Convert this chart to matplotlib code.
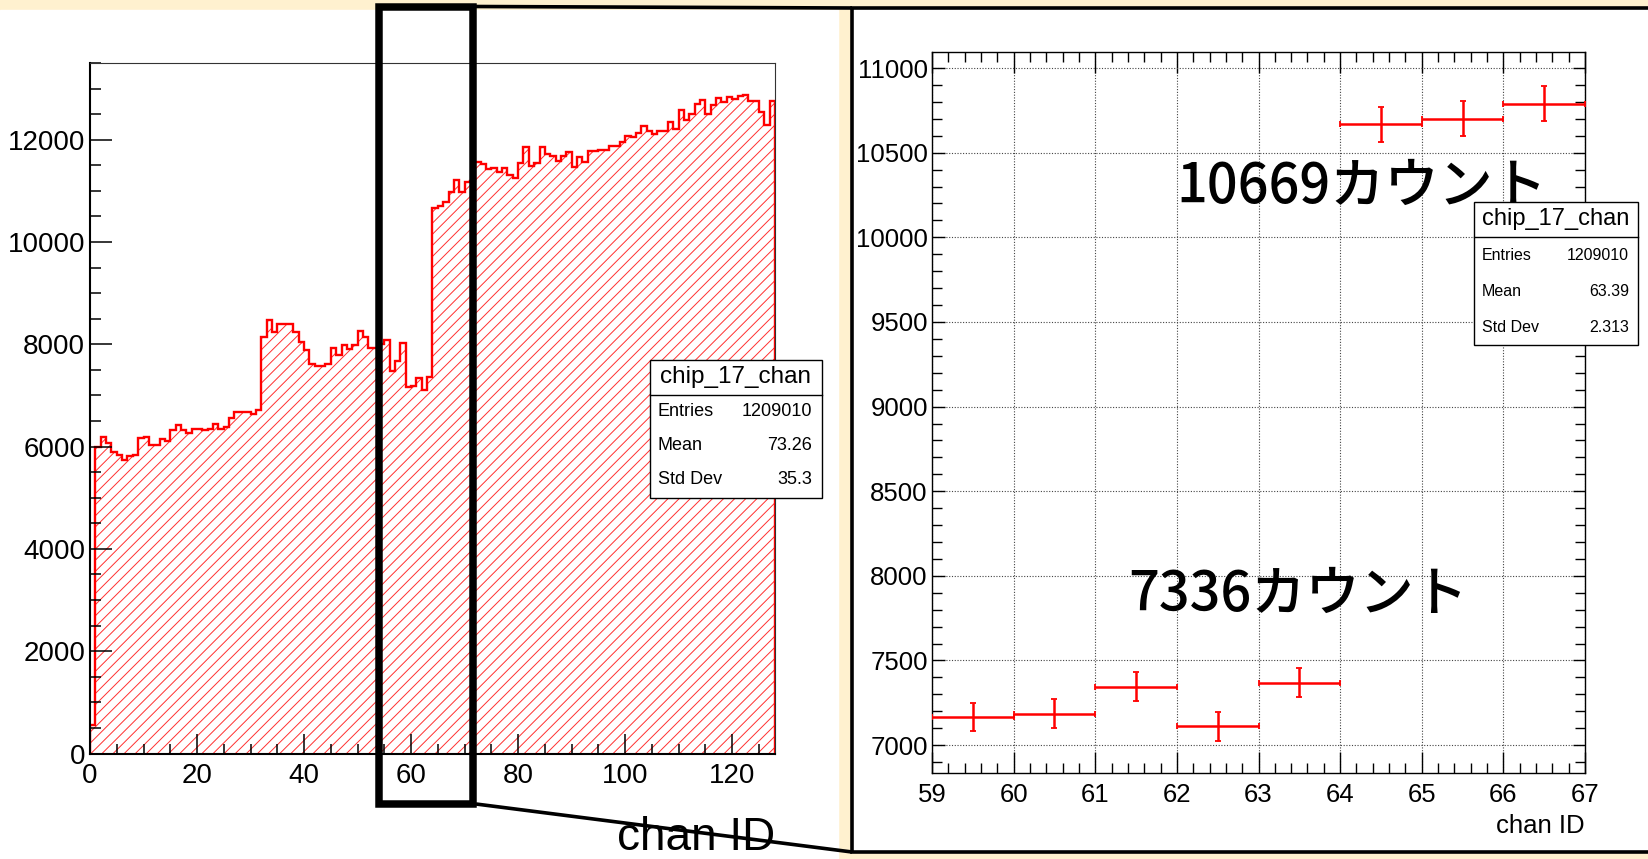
import numpy as np
import matplotlib.pyplot as plt
from matplotlib.patches import Rectangle
from matplotlib.ticker import MultipleLocator

plt.rcParams['font.family'] = ['Liberation Sans', 'Noto Sans CJK JP', 'DejaVu Sans']
plt.rcParams['hatch.linewidth'] = 0.7

# counts per channel of chip 17 (128 channels)
counts = [550, 6000, 6185, 6080, 5890, 5840, 5740, 5820, 5840, 6165,
          6185, 6035, 6035, 6145, 6100, 6315, 6425, 6315, 6260, 6345,
          6345, 6315, 6345, 6445, 6345, 6380, 6555, 6675, 6675, 6675,
          6640, 6720, 8150, 8480, 8250, 8400, 8400, 8400, 8250, 8050,
          7890, 7610, 7580, 7580, 7610, 7925, 7795, 7990, 7910, 7990,
          8265, 8140, 7925, 7925, 8000, 8080, 7485, 7665, 8035, 7165,
          7185, 7345, 7110, 7368, 10669, 10700, 10790, 10970, 11220, 10970,
          11180, 11200, 11560, 11520, 11420, 11440, 11360, 11450, 11310, 11250,
          11540, 11850, 11480, 11540, 11850, 11720, 11675, 11590, 11675, 11760,
          11460, 11655, 11565, 11770, 11770, 11805, 11805, 11870, 11870, 11955,
          12065, 12050, 12130, 12260, 12165, 12115, 12180, 12180, 12340, 12210,
          12585, 12390, 12510, 12705, 12780, 12510, 12685, 12815, 12730, 12845,
          12795, 12860, 12880, 12750, 12750, 12540, 12295, 12750]
edges = np.arange(len(counts) + 1)

zoom_lo, zoom_hi = 59, 67
hist_name = 'chip_17_chan'
stats_full = [('Entries', '1209010'), ('Mean', '73.26'), ('Std Dev', '35.3')]
stats_zoom = [('Entries', '1209010'), ('Mean', '63.39'), ('Std Dev', '2.313')]
notes = ['10669カウント', '7336カウント']

W, H = 1649, 859
CREAM = '#fff1cf'
fig = plt.figure(figsize=(W / 100, H / 100), dpi=100)


def px_axes(x0, y0, x1, y1, **kw):
    # axes from pixel box, y measured from the top
    return fig.add_axes([x0 / W, 1 - y1 / H, (x1 - x0) / W, (y1 - y0) / H], **kw)


# slide background
bg = px_axes(0, 0, W, H, zorder=0)
bg.set_xlim(0, W)
bg.set_ylim(H, 0)
bg.axis('off')
bg.add_patch(Rectangle((0, 0), W, H, color=CREAM))
bg.add_patch(Rectangle((0, 9.5), 838, H, color='white'))
bg.add_patch(Rectangle((852, 8), W, 844, facecolor='white', edgecolor='black', lw=2.6))

# left: full histogram
ax1 = px_axes(90, 63, 775, 753.5, zorder=1)
ax1.fill_between(edges, counts + [counts[-1]], step='post', facecolor='none',
                 edgecolor='#ff3030', hatch='///', lw=0)
ax1.stairs(counts, edges, color='red', lw=1.7)
ax1.set_xlim(0, 128)
ax1.set_ylim(0, 13500)
ax1.xaxis.set_major_locator(MultipleLocator(20))
ax1.xaxis.set_minor_locator(MultipleLocator(5))
ax1.yaxis.set_major_locator(MultipleLocator(2000))
ax1.yaxis.set_minor_locator(MultipleLocator(500))
ax1.tick_params(which='both', direction='in', top=False, right=False, width=1.1)
ax1.tick_params(axis='y', which='major', length=16, labelsize=20, pad=3.5)
ax1.tick_params(axis='y', which='minor', length=8)
ax1.tick_params(axis='x', which='major', length=14.5, labelsize=20, pad=7)
ax1.tick_params(axis='x', which='minor', length=7.2)
for s in ['left', 'bottom']:
    ax1.spines[s].set_linewidth(1.5)
for s in ['top', 'right']:
    ax1.spines[s].set_linewidth(0.8)
    ax1.spines[s].set_color('#333333')
ax1.text(1.0, -0.122, 'chan ID', transform=ax1.transAxes, ha='right', va='center', fontsize=33)

# right: zoom on channels 59-66
ax2 = px_axes(932, 52, 1585, 773, zorder=1)
zc = np.array(counts[zoom_lo:zoom_hi], dtype=float)
zx = np.arange(zoom_lo, zoom_hi) + 0.5
ax2.errorbar(zx, zc, xerr=0.5, yerr=np.sqrt(zc), fmt='none', ecolor='red',
             elinewidth=1.8, capsize=2.5, capthick=1.3, zorder=3)
ax2.set_xlim(zoom_lo, zoom_hi)
ax2.set_ylim(6835, 11095)
ax2.xaxis.set_major_locator(MultipleLocator(1))
ax2.xaxis.set_minor_locator(MultipleLocator(0.2))
ax2.yaxis.set_major_locator(MultipleLocator(500))
ax2.yaxis.set_minor_locator(MultipleLocator(100))
ax2.set_axisbelow(True)
ax2.grid(which='major', color='#444444', linestyle=(0, (1, 1.5)), linewidth=0.8)
ax2.tick_params(which='both', direction='in', top=True, right=True, width=1.0)
ax2.tick_params(axis='x', which='major', length=15, labelsize=18.5, pad=7)
ax2.tick_params(axis='x', which='minor', length=7.2)
ax2.tick_params(axis='y', which='major', length=9, labelsize=18.5, pad=3)
ax2.tick_params(axis='y', which='minor', length=7)
for s in ax2.spines.values():
    s.set_linewidth(1.0)
ax2.text(1.0, -0.0735, 'chan ID', transform=ax2.transAxes, ha='right', va='center', fontsize=18.5)

# overlay: annotations, stat boxes, zoom frame
ov = px_axes(0, 0, W, H, zorder=5)
ov.set_xlim(0, W)
ov.set_ylim(H, 0)
ov.axis('off')

ov.text(1176, 203, notes[0], fontsize=39, family=['Noto Sans CJK JP'], weight='medium',
        va='baseline', zorder=2)
ov.text(1128, 611, notes[1], fontsize=39, family=['Noto Sans CJK JP'], weight='medium',
        va='baseline', zorder=2)


def stats_box(x0, y0, w, h, hline, rows_y, stats, title_fs, row_fs, lx, rx):
    ov.add_patch(Rectangle((x0, y0), w, h, facecolor='white', edgecolor='black', lw=1.0, zorder=3))
    ov.plot([x0, x0 + w], [hline, hline], color='black', lw=1.0, zorder=4)
    ov.text(x0 + w / 2, (y0 + hline) / 2, hist_name, fontsize=title_fs, ha='center', va='center', zorder=4)
    for (lab, val), yy in zip(stats, rows_y):
        ov.text(lx, yy, lab, fontsize=row_fs, ha='left', va='center', zorder=4)
        ov.text(rx, yy, val, fontsize=row_fs, ha='right', va='center', zorder=4)


stats_box(650, 360, 172, 138, 395, [412, 446, 480], stats_full, 17.5, 13, 658, 812)
stats_box(1474, 202, 164, 143, 237, [256, 291, 327], stats_zoom, 17, 11.5, 1482, 1629)

ov.add_patch(Rectangle((379.5, 7), 473 - 379.5, 804 - 7, fill=False, edgecolor='black',
                       lw=5.4, joinstyle='miter', zorder=6))
ov.plot([476, 852], [6.5, 8], color='black', lw=2.6, solid_capstyle='butt', zorder=6)
ov.plot([476, 852], [804, 852], color='black', lw=2.6, solid_capstyle='butt', zorder=6)

fig.savefig('out.png', dpi=100)
